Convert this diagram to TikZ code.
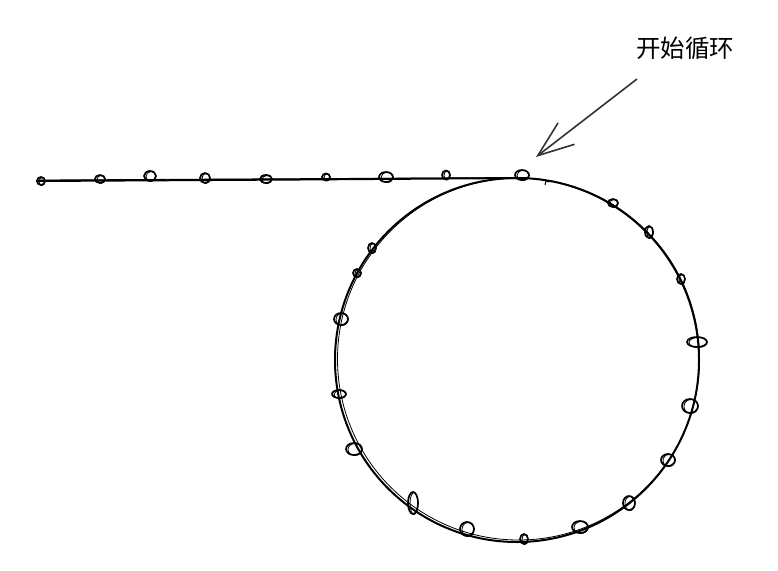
\documentclass[tikz,border=0pt]{standalone}
\usepackage{fontspec}
\newfontfamily\cjk{Noto Sans CJK SC}
\usetikzlibrary{arrows.meta}
\tikzset{
    rope/.style={line width=2pt, black},
    knot/.style={line width=1.7pt, black},
    pointer/.style={line width=1.6pt, black!80, -{Straight Barb[length=36pt, width=27pt, line width=1.6pt]}}
}
\begin{document}
\begin{tikzpicture}[x=1pt, y=-1pt]
        \useasboundingbox (0,0) rectangle (778,570);
        %straight part
        \draw [rope] (36,181) -- (300,179.5) -- (521,178);
        \draw [rope, line width=0.8pt] (40,180) -- (521,177.5);
        %loop
        \draw [rope] (517,360) circle (182);
        \draw [rope, line width=0.8pt] (518.5,359) circle (181);
        \draw [rope, line width=1pt] (545,185) -- (546,181) -- (549,182);

        %knots on the straight part
        \foreach \x/\y/\rx/\ry in {41/181/4/4, 100/179/5/4, 150/176/6/5, 205/178/5/5,
                266/179/6/4, 326/177/4/3.5, 386/177/7/5, 446/175/4/4.5, 522/175/7/5} {
            \draw [knot] (\x,\y) ellipse (\rx pt and \ry pt);
            \draw [knot, line width=0.8pt] (\x+1,\y+0.5) ellipse (\rx pt-1pt and \ry pt);
        }
        %knots on the loop
        \foreach \x/\y/\rx/\ry in {613/203/5/4, 649/232/4/6, 681/279/4/5, 697/342/10/5,
                690/406/8/7, 668/460/7/6, 629/503/6/7, 580/527/8/6, 524/539/4/5,
                467/529/7/7, 413/503/5/11, 354/449/8/6, 339/394/7/4, 341/319/7/6,
                357/273/4/4, 372/248/4/5} {
            \draw [knot] (\x,\y) ellipse (\rx pt and \ry pt);
            \draw [knot, line width=0.8pt] (\x+1,\y+0.5) ellipse (\rx pt-1pt and \ry pt);
        }

        \node (label) at (685,48) {\cjk\fontsize{24.5pt}{24.5pt}\selectfont 开始循环};
        \coordinate (tail) at (637,79);
        \coordinate (tip) at (536,157);
        \draw [pointer] (tail) -- (tip);
    \end{tikzpicture}
\end{document}
